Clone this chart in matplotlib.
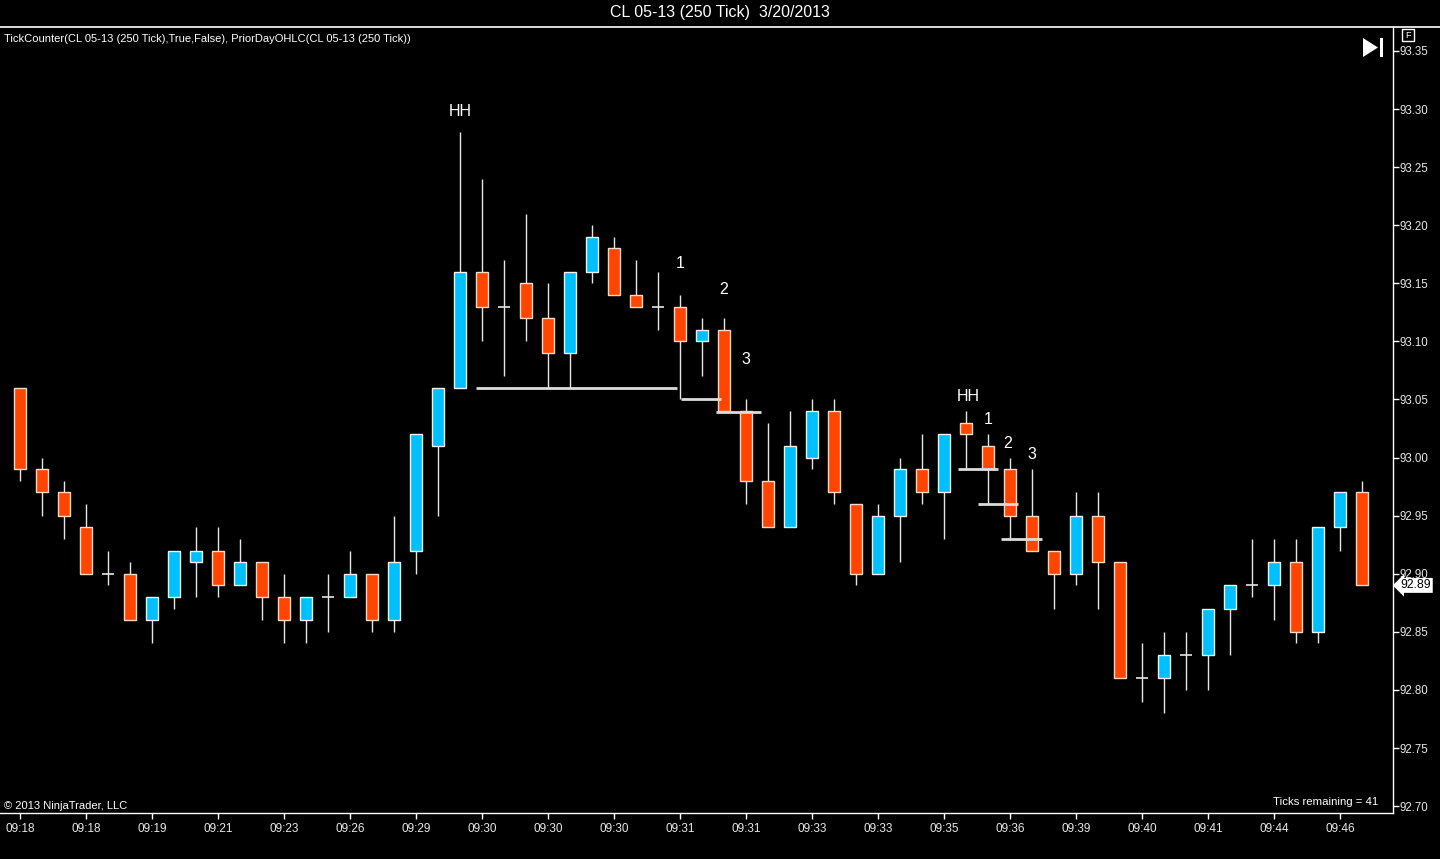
import matplotlib
matplotlib.use('Agg')
import matplotlib.pyplot as plt
from matplotlib.patches import Polygon, Rectangle
import matplotlib.transforms as mtransforms

plt.rcParams['font.family'] = ['Liberation Sans', 'DejaVu Sans']

# OHLC of the 250 tick bars
opens = [93.06, 92.99, 92.97, 92.94, 92.90, 92.90, 92.86, 92.88, 92.91, 92.92,
         92.89, 92.91, 92.88, 92.86, 92.88, 92.88, 92.90, 92.86, 92.92, 93.01,
         93.06, 93.16, 93.13, 93.15, 93.12, 93.09, 93.16, 93.18, 93.14, 93.13,
         93.13, 93.10, 93.11, 93.04, 92.98, 92.94, 93.00, 93.04, 92.96, 92.90,
         92.95, 92.99, 92.97, 93.03, 93.01, 92.99, 92.95, 92.92, 92.90, 92.95,
         92.91, 92.81, 92.81, 92.83, 92.83, 92.87, 92.89, 92.89, 92.91, 92.85,
         92.94, 92.97]
highs = [93.06, 93.00, 92.98, 92.96, 92.92, 92.91, 92.88, 92.92, 92.94, 92.94,
         92.93, 92.91, 92.90, 92.88, 92.90, 92.92, 92.90, 92.95, 93.02, 93.06,
         93.28, 93.24, 93.17, 93.21, 93.15, 93.16, 93.20, 93.19, 93.17, 93.16,
         93.14, 93.12, 93.12, 93.05, 93.03, 93.04, 93.05, 93.05, 92.96, 92.96,
         93.00, 93.02, 93.02, 93.04, 93.02, 93.00, 92.99, 92.92, 92.97, 92.97,
         92.91, 92.84, 92.85, 92.85, 92.87, 92.89, 92.93, 92.93, 92.93, 92.94,
         92.97, 92.98]
lows = [92.98, 92.95, 92.93, 92.90, 92.89, 92.86, 92.84, 92.87, 92.88, 92.88,
        92.89, 92.86, 92.84, 92.84, 92.85, 92.88, 92.85, 92.85, 92.90, 92.95,
        93.06, 93.10, 93.07, 93.10, 93.06, 93.06, 93.15, 93.14, 93.13, 93.11,
        93.05, 93.07, 93.04, 92.96, 92.94, 92.94, 92.99, 92.96, 92.89, 92.90,
        92.91, 92.96, 92.93, 92.99, 92.96, 92.93, 92.92, 92.87, 92.89, 92.87,
        92.81, 92.79, 92.78, 92.80, 92.80, 92.83, 92.88, 92.86, 92.84, 92.84,
        92.92, 92.89]
closes = [92.99, 92.97, 92.95, 92.90, 92.90, 92.86, 92.88, 92.92, 92.92, 92.89,
          92.91, 92.88, 92.86, 92.88, 92.88, 92.90, 92.86, 92.91, 93.02, 93.06,
          93.16, 93.13, 93.13, 93.12, 93.09, 93.16, 93.19, 93.14, 93.13, 93.13,
          93.10, 93.11, 93.04, 92.98, 92.94, 93.01, 93.04, 92.97, 92.90, 92.95,
          92.99, 92.97, 93.02, 93.02, 92.99, 92.95, 92.92, 92.90, 92.95, 92.91,
          92.81, 92.81, 92.83, 92.83, 92.87, 92.89, 92.89, 92.91, 92.85, 92.94,
          92.97, 92.89]

# time labels shown every third bar
time_labels = ['09:18', '09:18', '09:19', '09:21', '09:23', '09:26', '09:29',
               '09:30', '09:30', '09:30', '09:31', '09:31', '09:33', '09:33',
               '09:35', '09:36', '09:39', '09:40', '09:41', '09:44', '09:46']

# TickCounter swing marks: (bar position, price, text)
swing_marks = [(20, 93.298, 'HH'), (30, 93.167, '1'), (32, 93.145, '2'),
               (33, 93.084, '3'), (43.1, 93.053, 'HH'), (44, 93.033, '1'),
               (44.9, 93.012, '2'), (46, 93.003, '3')]
# levels drawn under the swings: (from bar, to bar, price)
swing_levels = [(20.73, 29.86, 93.06), (30.05, 31.86, 93.05), (31.64, 33.68, 93.039),
                (42.62, 44.47, 92.99), (43.53, 45.38, 92.96), (44.58, 46.44, 92.93)]

last_price = 92.89

up_color = '#00bfff'
down_color = '#ff4500'
wick_color = '#e6e6e6'

fig = plt.figure(figsize=(14.4, 8.59), dpi=100, facecolor='black')
W, H = 1440.0, 859.0
ax = fig.add_axes([0, 1 - 813 / H, 1393 / W, (813 - 27) / H], facecolor='black')

n = len(opens)
xs = list(range(n))
body_w = 0.58

# wicks
ax.vlines(xs, lows, highs, color=wick_color, linewidth=1, zorder=2)

for i in xs:
    o, c = opens[i], closes[i]
    if o == c:
        ax.hlines(o, i - body_w / 2, i + body_w / 2, color=wick_color, linewidth=1.2, zorder=3)
        continue
    col = up_color if c > o else down_color
    edge = '#f2f2f2' if c > o else '#ffd9c8'
    ax.bar(i, abs(c - o), bottom=min(o, c), width=body_w, color=col,
           edgecolor=edge, linewidth=1, zorder=3)

for x0, x1, p in swing_levels:
    ax.hlines(p, x0, x1, color='#dcdcdc', linewidth=2, zorder=4)

for x, p, t in swing_marks:
    ax.text(x, p, t, color='white', fontsize=11.5, ha='center', va='center', zorder=5)

ax.set_xlim(-20 / 22, 1373 / 22)
ax.set_ylim(92.6941, 93.3706)

# right price axis
yt = [92.70 + 0.05 * k for k in range(14)]
ax.yaxis.tick_right()
ax.set_yticks(yt)
ax.set_yticklabels(['%.2f' % v for v in yt])
ax.tick_params(axis='y', colors='white', labelcolor='#e8e8e8', labelsize=8.3,
               length=4, width=1, direction='out', pad=1)
ax.set_xticks(xs[::3])
ax.set_xticklabels(time_labels)
ax.tick_params(axis='x', colors='white', labelcolor='#e8e8e8', labelsize=8.5,
               length=4, width=1, direction='out', pad=3)

for side in ['left', 'top']:
    ax.spines[side].set_visible(False)
for side in ['right', 'bottom']:
    ax.spines[side].set_color('white')
    ax.spines[side].set_linewidth(1)

# last price marker
trans = mtransforms.blended_transform_factory(ax.transAxes, ax.transData)
ax.text(1.0055, last_price, '%.2f' % last_price, transform=trans, color='black',
        fontsize=8.8, ha='left', va='center', clip_on=False, zorder=6,
        bbox=dict(boxstyle='larrow,pad=0.12', fc='white', ec='none'))

# top separator line and title
fig.add_artist(plt.Line2D([0, 1], [1 - 27 / H, 1 - 27 / H], color='white', linewidth=1.2))
fig.text(0.5, 1 - 13 / H, 'CL 05-13 (250 Tick)  3/20/2013', color='white',
         fontsize=11.5, ha='center', va='center')
fig.text(4 / W, 1 - 39 / H, 'TickCounter(CL 05-13 (250 Tick),True,False), PriorDayOHLC(CL 05-13 (250 Tick))',
         color='white', fontsize=8.0, ha='left', va='center')
fig.text(4 / W, 1 - 806 / H, '\u00a9 2013 NinjaTrader, LLC', color='white',
         fontsize=8.0, ha='left', va='center')
fig.text(1378 / W, 1 - 802 / H, 'Ticks remaining = 41', color='white',
         fontsize=8.2, ha='right', va='center')

# "F" box and go-to-end button
fig.add_artist(Rectangle((1402 / W, 1 - 41 / H), 12 / W, 12 / H, fill=False,
                         ec='white', lw=1, transform=fig.transFigure))
fig.text(1408 / W, 1 - 35 / H, 'F', color='white', fontsize=6.5, ha='center', va='center')
fig.add_artist(Polygon([(1363 / W, 1 - 38 / H), (1363 / W, 1 - 57 / H), (1378 / W, 1 - 47.5 / H)],
                       closed=True, fc='white', ec='none', transform=fig.transFigure))
fig.add_artist(Rectangle((1380 / W, 1 - 57 / H), 3 / W, 19 / H, fc='white', ec='none',
                         transform=fig.transFigure))

fig.savefig('out.png', dpi=100, facecolor='black')
